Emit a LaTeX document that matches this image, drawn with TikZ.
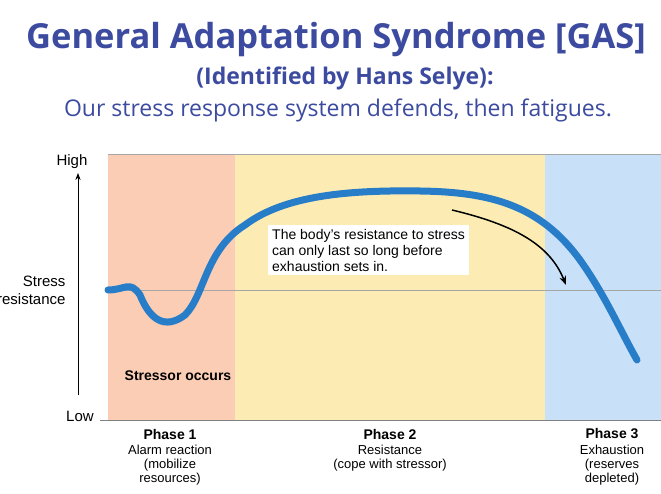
\documentclass[tikz,border=0pt]{standalone}
\usepackage{fontspec}
\setmainfont{Liberation Sans}
\newfontfamily\titlefont{Open Sans}
\usetikzlibrary{arrows.meta}
\definecolor{tblue}{RGB}{60,75,160}
\definecolor{cblue}{RGB}{40,125,200}
\definecolor{pred}{RGB}{250,205,180}
\definecolor{pyel}{RGB}{252,236,180}
\definecolor{pblu}{RGB}{200,225,248}
\tikzset{lbl/.style={font=\fontsize{13}{14}\selectfont,align=center,anchor=north},
phase/.style={font=\bfseries\fontsize{14}{15}\selectfont}}
\begin{document}
\begin{tikzpicture}[x=1pt,y=-1pt]
\useasboundingbox (0,0) rectangle (661,494);
\fill[white] (0,0) rectangle (661,494);
\node[font=\titlefont\bfseries\fontsize{34.5}{38}\selectfont,text=tblue] (t1) at (336,40) {General Adaptation Syndrome [GAS]};
\node[font=\titlefont\bfseries\fontsize{23}{26}\selectfont,text=tblue] (t2) at (345,78) {(Identified by Hans Selye):};
\node[font=\titlefont\fontsize{23}{26}\selectfont,text=tblue] (t3) at (338,110) {Our stress response system defends, then fatigues.};
\fill[pred] (108,155) rectangle (235,420);
\fill[pyel] (235,155) rectangle (545,420);
\fill[pblu] (545,155) rectangle (661,420);
\draw[gray!70,line width=1pt] (108,155) -- (661,155);
\draw[gray!70,line width=0.8pt] (108,290) -- (661,290);
\draw[gray,line width=1pt] (100,420) -- (661,420);
\coordinate (ab) at (78,395); \coordinate (at) at (78,173);
\draw[-{Stealth[length=7pt]},line width=1pt] (ab) -- (at);
\node[font=\fontsize{15}{16}\selectfont] (hi) at (72,162) {High};
\node[font=\fontsize{15}{16}\selectfont] (lo) at (80,416) {Low};
\node[font=\fontsize{15}{18}\selectfont,align=right,anchor=east] (sr) at (69,290) {Stress\\resistance};
\draw[cblue,line width=7pt,line cap=round] (108,290) .. controls (125,290) and (130,280) .. (140,295)
 .. controls (150,320) and (165,330) .. (185,315)
 .. controls (205,295) and (205,250) .. (245,225)
 .. controls (285,195) and (350,190) .. (420,191)
 .. controls (490,192) and (540,205) .. (580,260)
 .. controls (605,295) and (620,330) .. (637,360);
\node[fill=white,anchor=north west,align=left,font=\fontsize{14}{16}\selectfont,inner sep=4pt] (box) at (268,225) {The body's resistance to stress\\can only last so long before\\exhaustion sets in.};
\coordinate (a1) at (452,210); \coordinate (a2) at (566,285);
\draw[-{Stealth[length=9pt]},line width=1.5pt] (a1) .. controls (515,225) and (550,245) .. (a2);
\node[font=\bfseries\fontsize{14}{15}\selectfont] (so) at (178,376) {Stressor occurs};
\node[phase] (p1) at (170,434) {Phase 1};
\node[lbl] (d1) at (170,442) {Alarm reaction\\(mobilize\\resources)};
\node[phase] (p2) at (390,434) {Phase 2};
\node[lbl] (d2) at (390,442) {Resistance\\(cope with stressor)};
\node[phase] (p3) at (612,434) {Phase 3};
\node[lbl] (d3) at (612,442) {Exhaustion\\(reserves\\depleted)};
\end{tikzpicture}
\end{document}
